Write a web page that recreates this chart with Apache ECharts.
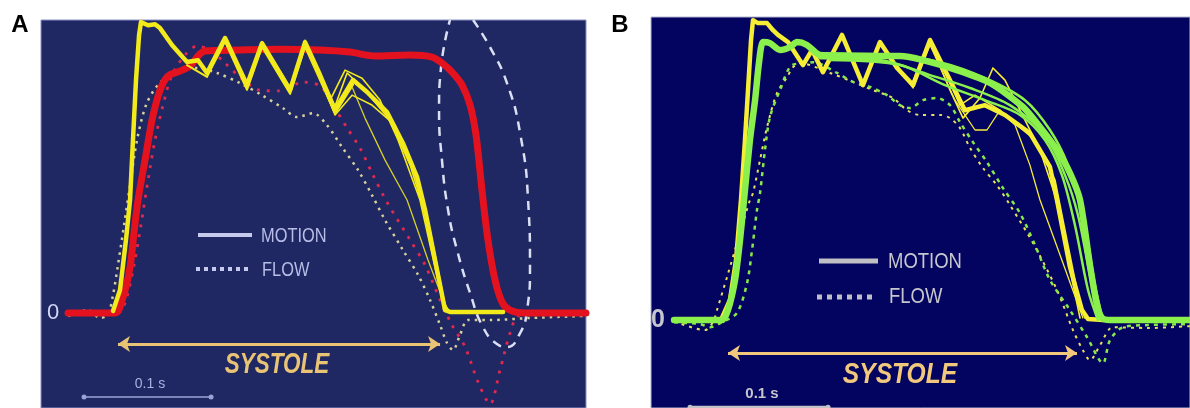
<!DOCTYPE html>
<html>
<head>
<meta charset="utf-8">
<title>Motion vs flow</title>
<script src="https://cdn.jsdelivr.net/npm/echarts@6/dist/echarts.min.js"></script>
<style>
html,body{margin:0;padding:0;background:#fff;}
#chart{width:1190px;height:408px;}
</style>
</head>
<body>
<div id="chart"></div>
<script>
// x = time in ms from the left edge of the panel, y = velocity in % of the plateau
// ---- panel A ----
var motionRedA = [[21.3,0],[58.3,0],[64.6,6.1],[70.1,17.6],[73.2,30.7],[76.4,43.3],[81.9,58.6],[87.4,73.9],[93.7,85.4],[100,90.8],[109.4,92.7],[117.3,94.6],[123.6,98.5],[129.1,100.4],[156.7,100.8],[188.2,101.1],[219.7,100.8],[243.3,100],[263,98.5],[290.6,98.9],[307.9,98.1],[315.7,95.8],[323.6,92.3],[331.5,87.4],[337.8,79.7],[342.5,68.2],[347.2,47.1],[351.9,28],[357.5,12.6],[363,4.2],[369.3,1.1],[381.1,0],[429.1,0]];
var motionYellowA = [[56.7,0.8],[62.2,8.8],[66.9,28],[70.1,43.3],[72.4,66.3],[74.8,89.3],[77.2,106.5],[78.7,111.5],[84.3,110.3],[89.8,110.7],[93.7,109.2],[103.1,102.7],[115,96.2],[123.6,96.9],[130.7,92],[144.9,105.4],[162.2,87.4],[174,103.4],[196.1,85.4],[207.9,103.8],[219.7,91.2],[231.5,77.8],[245.7,89.3],[256.7,84.7],[272.4,77],[285,65.1],[296.1,52.1],[302.4,39.5],[308.7,24.1],[314.2,10.7],[318.1,1.1],[322,0.4],[363.8,0.4]];
var yellowA2 = [[174,102.5],[196.1,84.5],[207.9,103],[231.5,79.3],[241,92],[255.1,85.4],[274.8,73.9],[290.6,56.7],[306.3,31.8],[318.1,3.1],[322,0.4]];
var yellowA3 = [[162.2,88.5],[174,104],[196.1,86.5],[207.9,104.5],[227.6,81.6],[239.4,93.1],[252.8,90],[266.9,81.6],[281.1,66.3],[298.4,43.3],[314.2,8.8],[320.5,0.4]];
var yellowA4 = [[207.9,102.7],[231.5,77],[243.3,88.5],[255.1,74.7],[270.9,58.6],[288.2,43.3],[304.7,20.3],[319.7,1.1]];
var yellowA5 = [[207.9,104],[219.7,90],[231.5,75.9],[244.9,83.5],[260.6,79.7],[278.7,72],[292.1,56.7],[304.7,35.6],[315.7,5],[320,0.4]];
var yellowA6 = [[115,95],[130.7,90.5],[144.9,104],[162.2,85.5],[174,102],[196.1,84],[207.9,102],[231.5,76.5],[245.7,87.5]];
var flowYellowA = [[21.3,-1.1],[37,1.1],[46.5,-1.9],[52.8,-0.4],[56.7,6.9],[60.6,18.4],[65.4,33.7],[70.1,49],[75.6,66.3],[82.7,79.7],[92.1,87.4],[105.5,92.3],[122.8,93.9],[138.6,92],[156.7,88.1],[174,83.5],[190.6,78.5],[201.6,75.1],[214.2,76.6],[225.2,72],[237,63.6],[249.6,54.8],[260.6,45.2],[270.9,35.6],[285,24.1],[296.9,14.6],[306.3,5],[314.2,-4.6],[319.7,-11.5],[324.4,-14.2],[329.9,-8.4],[336.2,-2.7],[353.5,-2.7],[385,-1.9],[429.1,-1.1]];
var flowRedA = [[21.3,0],[60.6,0],[66.9,5],[73.2,18.4],[78.7,33.7],[84.3,51],[89.8,66.3],[96.1,79.7],[103.1,91.2],[113.4,98.9],[122.8,102.3],[133.1,100.8],[144.9,95.8],[156.7,90.4],[172.4,85.4],[188.2,85.1],[206.3,88.5],[219.7,87],[229.9,79.7],[241,70.9],[251.2,63.2],[261.4,52.9],[272.4,42.5],[290.6,28],[302.4,18.4],[314.2,5],[323.6,-4.6],[333.9,-13],[344.1,-26.4],[353.5,-34.9],[361.4,-21.8],[369.3,-7.7],[375.6,-1.1],[392.9,0],[429.1,0]];
var ellipseA = [[340.2,112.3],[353.5,101.9],[366.9,88.1],[377.2,69],[383.5,43.3],[385,17.6],[382.7,1.1],[377.2,-7.7],[366.9,-13],[359,-11.9],[348,-5.4],[337.8,7.7],[327.6,24.1],[320.5,39.5],[315.7,58.6],[313.4,77.8],[315,94.3],[322,112.3]];
var systoleA = [60.6, 314.2];
var scaleBarA = [[33.9,-32.2],[133.9,-32.2]];

// ---- panel B ----
var motionGreenB = [[16.7,0],[51.4,0],[55.8,3.8],[60.9,15.2],[64.5,30.3],[67.4,45.5],[71.7,68.2],[75.4,83.3],[78.3,97.7],[81.2,105.3],[86.2,104.9],[93.5,102.3],[100.7,103.4],[105.8,105.3],[113,104.2],[122.5,100.4],[151.4,100],[180.4,100],[197.1,98.5],[221.7,94.7],[245.7,89.8],[269.6,80.7],[281.9,73.1],[294.2,64.4],[303.6,55.7],[310.9,45.5],[318.1,20.8],[323.2,5.7],[326.8,0.8],[332.6,0],[390.6,0]];
var greenB2 = [[122.5,99.2],[165.9,98.5],[202.2,92.8],[231.2,87.9],[260.1,81.4],[285.5,70.1],[300,54.9],[309.4,39.8],[318.1,17],[325.4,0.8]];
var greenB3 = [[122.5,101.1],[173.2,100.4],[209.4,97.7],[242,91.7],[271,83.3],[289.1,72],[302.2,58.7],[313,39.8],[321.7,13.3],[327.5,0]];
var greenB4 = [[129.7,98.5],[180.4,96.6],[213,89],[242,83.3],[267.4,77.7],[285.5,68.2],[297.8,54.9],[307.2,36],[316.7,11.4],[323.9,0]];
var motionYellowB = [[51.4,0.8],[57.2,7.6],[61.6,22.7],[65.2,45.5],[68.1,68.2],[70.3,87.1],[72.5,106.1],[73.9,113.6],[77.5,112.5],[84.1,112.5],[88.4,109.8],[92,108],[99.3,105.3],[110.1,96.6],[116.7,102.3],[124.6,93.9],[138.4,108],[153.6,89],[165.9,105.3],[178.3,95.5],[189.9,89],[202.2,106.1],[213,94.7],[227.5,79.5],[242,81.4],[256.5,77.7],[274.6,70.8],[289.1,58],[294.2,45.5],[303.6,20.1],[312.3,3.8],[316.7,0.4],[327.5,0]];
var yellowB2 = [[189.9,90.5],[202.2,105.3],[216.7,87.1],[226.1,76.5],[238.4,84.1],[247.8,95.5],[256.5,90.9],[267.4,79.5],[281.9,64.4],[292.8,47.3],[302.2,22.7],[310.9,0.8]];
var yellowB3 = [[189.9,88],[202.2,104.2],[220.3,83.3],[234.8,72],[243.5,72],[252.9,79.5],[263.8,73.9],[274.6,58.7],[281.9,45.5],[297.8,22.7],[313,0.8]];
var yellowB4 = [[153.6,90],[165.9,104.5],[178.3,96.5],[189.9,88],[202.2,106.1],[223.9,81.4],[234.8,85.2],[252.9,79.5],[278.3,68.2],[292.8,53],[300,34.1],[308.7,11.4],[314.5,0.8]];
var flowGreenB = [[16.7,-0.8],[35.5,-1.5],[42.8,-2.7],[51.4,-0.8],[62.3,2.7],[69.6,14],[73.2,26.5],[76.8,41.7],[79,48.1],[82.6,64.4],[86.2,76.9],[93.5,87.1],[102.2,96.6],[113,97.3],[117.4,97.7],[134.8,93.6],[146.4,90.2],[158.7,88.3],[171,85.2],[180.4,81.4],[187.7,80.3],[197.1,83.3],[207.2,84.1],[216.7,81.4],[223.9,75],[233.3,67.4],[243.5,59.8],[255.1,50],[267.4,40.5],[278.3,28.4],[289.1,15.2],[303.6,3.8],[315.9,-6.4],[327.5,-16.3],[332.6,-7.6],[342,-2.7],[360.1,-1.9],[390.6,-1.5]];
var flowYellowB = [[16.7,-0.4],[39.1,-3.8],[44.9,-0.8],[47.8,3.8],[55.1,16.3],[64.5,33],[71.7,45.5],[73.9,48.1],[79,60.6],[84.1,73.1],[91.3,86],[98.6,92],[102.9,95.8],[108,97.3],[129.7,93.6],[146.4,90.2],[160.9,87.1],[175.4,84.1],[185.5,79.5],[194.9,77.7],[209.4,77.7],[216.7,76.5],[223.9,72.7],[231.2,65.2],[240.6,57.6],[250.7,51.1],[260.1,43.6],[276.8,29.2],[294.2,11.4],[305.8,-3.8],[313,-11.4],[318.1,-15.2],[325.4,-9.5],[334.8,-2.7],[360.1,-3],[390.6,-2.3]];
var systoleB = [55.8, 308.7];
var scaleBarB = [[28.3,-33],[128.3,-33]];

var legendLabels = ['MOTION', 'FLOW'];
var FONT = 'Liberation Sans, Arial, sans-serif';

var chart = echarts.init(document.getElementById('chart'));

function ln(data, g, color, width, dash, smooth) {
    return {
        type: 'line', xAxisIndex: g, yAxisIndex: g, data: data,
        showSymbol: false, smooth: smooth || false, silent: true,
        lineStyle: { color: color, width: width, type: dash || 'solid', cap: dash ? 'butt' : 'round', join: 'round' }
    };
}

function arrow(g, span, y, color) {
    return {
        type: 'line', xAxisIndex: g, yAxisIndex: g, data: [], silent: true,
        markLine: {
            silent: true, symbol: ['arrow', 'arrow'], symbolSize: 12, animation: false,
            label: { show: false },
            lineStyle: { color: color, width: 3, type: 'solid' },
            data: [[{ coord: [span[0], y] }, { coord: [span[1], y] }]]
        }
    };
}

function scaleBar(g, data, color, width) {
    var s = ln(data, g, color, width);
    s.showSymbol = true;
    s.symbol = 'circle';
    s.symbolSize = 5;
    s.itemStyle = { color: color };
    return s;
}

function zeroLabel(v) { return v === 0 ? '0' : ''; }

var yellow = '#f3ea1c', red = '#e3121e', green = '#8cf04c', yellowB = '#f6ee34';

chart.setOption({
    animation: false,
    grid: [
        { left: 41, top: 20, width: 545, height: 388, show: true, backgroundColor: '#1f2862', borderColor: '#8a90c4', borderWidth: 1 },
        { left: 651, top: 17, width: 539, height: 391, show: true, backgroundColor: '#03045f', borderColor: '#b4b6d2', borderWidth: 1 }
    ],
    xAxis: [
        { gridIndex: 0, type: 'value', min: 0, max: 429.1, show: false },
        { gridIndex: 1, type: 'value', min: 0, max: 390.6, show: false }
    ],
    yAxis: [
        { gridIndex: 0, type: 'value', min: -36.4, max: 112.3, axisLine: { show: false }, axisTick: { show: false }, splitLine: { show: false },
          axisLabel: { inside: true, margin: 6, formatter: zeroLabel, color: '#d2d6f2', fontSize: 22, fontFamily: FONT, showMinLabel: false, showMaxLabel: false } },
        { gridIndex: 1, type: 'value', min: -33.3, max: 114.8, axisLine: { show: false }, axisTick: { show: false }, splitLine: { show: false },
          axisLabel: { inside: true, margin: 0, formatter: zeroLabel, color: '#c6c6ce', fontSize: 25, fontWeight: 'bold', fontFamily: FONT, showMinLabel: false, showMaxLabel: false } }
    ],
    series: [
        // A
        ln(flowYellowA, 0, '#d6d09a', 2.5, [2.5, 5], 0.3),
        ln(flowRedA, 0, '#e2284e', 2.8, [3, 7], 0.3),
        ln(ellipseA, 0, '#dadff4', 2.5, [9, 7], 0.5),
        ln(motionRedA, 0, red, 7, null, 0.3),
        ln(yellowA6, 0, yellow, 2),
        ln(yellowA2, 0, yellow, 1.6),
        ln(yellowA3, 0, yellow, 1.6),
        ln(yellowA4, 0, '#d8cf2a', 1.3),
        ln(yellowA5, 0, yellow, 1.6),
        ln(motionYellowA, 0, yellow, 4.5),
        arrow(0, systoleA, -11.9, '#e9c475'),
        scaleBar(0, scaleBarA, '#9aa2d6', 1.5),
        // B
        ln(flowYellowB, 1, '#e8e25a', 2, [3, 5], 0.3),
        ln(flowGreenB, 1, '#86e84a', 2.5, [4, 5], 0.3),
        ln(yellowB2, 1, yellowB, 1.6),
        ln(yellowB3, 1, yellowB, 1.3),
        ln(yellowB4, 1, yellowB, 1.6),
        ln(motionYellowB, 1, yellowB, 4.5),
        ln(greenB2, 1, green, 2.5, null, 0.3),
        ln(greenB3, 1, green, 2.5, null, 0.3),
        ln(greenB4, 1, green, 2.5, null, 0.3),
        ln(motionGreenB, 1, green, 6.5, null, 0.25),
        arrow(1, systoleB, -12.5, '#f2c97c'),
        scaleBar(1, scaleBarB, '#c2c2c8', 3)
    ],
    graphic: [
        { type: 'text', x: 20, y: 25, style: { text: 'A', align: 'center', verticalAlign: 'middle', font: 'bold 24px ' + FONT, fill: '#000' } },
        { type: 'text', x: 620, y: 25, style: { text: 'B', align: 'center', verticalAlign: 'middle', font: 'bold 24px ' + FONT, fill: '#000' } },
        // legend A
        { type: 'line', shape: { x1: 198, y1: 235, x2: 252, y2: 235 }, style: { stroke: '#c6cbee', lineWidth: 4 } },
        { type: 'line', shape: { x1: 196, y1: 269, x2: 251, y2: 269 }, style: { stroke: '#c6cbee', lineWidth: 4, lineDash: [4, 4] } },
        { type: 'text', x: 261, y: 236, scaleX: 0.82, style: { text: legendLabels[0], verticalAlign: 'middle', font: '20px ' + FONT, fill: '#b7bde6' } },
        { type: 'text', x: 262, y: 270, scaleX: 0.82, style: { text: legendLabels[1], verticalAlign: 'middle', font: '20px ' + FONT, fill: '#b7bde6' } },
        { type: 'text', x: 277, y: 365, scaleX: 0.75, style: { text: 'SYSTOLE', align: 'center', verticalAlign: 'middle', font: 'italic bold 30px ' + FONT, fill: '#e9c475' } },
        { type: 'text', x: 150, y: 384, style: { text: '0.1 s', align: 'center', verticalAlign: 'middle', font: '14px ' + FONT, fill: '#aab2e2' } },
        // legend B
        { type: 'line', shape: { x1: 819, y1: 261, x2: 878, y2: 261 }, style: { stroke: '#c0c0c4', lineWidth: 5 } },
        { type: 'line', shape: { x1: 817, y1: 297, x2: 876, y2: 297 }, style: { stroke: '#c0c0c4', lineWidth: 5, lineDash: [5, 5] } },
        { type: 'text', x: 888, y: 262, scaleX: 0.84, style: { text: legendLabels[0], verticalAlign: 'middle', font: '22px ' + FONT, fill: '#c6c6cc' } },
        { type: 'text', x: 889, y: 297, scaleX: 0.84, style: { text: legendLabels[1], verticalAlign: 'middle', font: '22px ' + FONT, fill: '#c6c6cc' } },
        { type: 'text', x: 900, y: 375, scaleX: 0.82, style: { text: 'SYSTOLE', align: 'center', verticalAlign: 'middle', font: 'italic bold 30px ' + FONT, fill: '#f2c97c' } },
        { type: 'text', x: 762, y: 394, style: { text: '0.1 s', align: 'center', verticalAlign: 'middle', font: 'bold 15px ' + FONT, fill: '#c6c6cc' } }
    ]
});
</script>
</body>
</html>
